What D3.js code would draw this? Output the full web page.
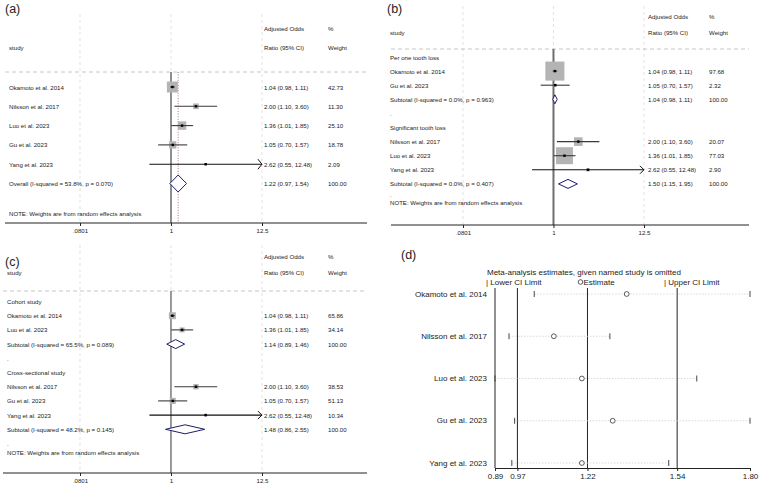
<!DOCTYPE html>
<html><head><meta charset="utf-8">
<script src="https://cdn.jsdelivr.net/npm/d3@7"></script>
<style>
body{margin:0;background:#fff}
svg{display:block}
text{font-family:"Liberation Sans",Arial,sans-serif;fill:#222}
</style>
</head><body>
<svg id="c" width="762" height="488"></svg>
<script>
// ---------------- DATA ----------------
const colHeads = ["Adjusted Odds", "Ratio (95% CI)", "%", "Weight"];
const forestTicks = [0.0801, 1, 12.5];
const forestTickLabels = [".0801", "1", "12.5"];
const noteText = "NOTE: Weights are from random effects analysis";

// (a) overall
const studiesA = ["Okamoto et al. 2014", "Nilsson et al. 2017", "Luo et al. 2023", "Gu et al. 2023", "Yang et al. 2023"];
const orA = [1.04, 2.00, 1.36, 1.05, 2.62];
const loA = [0.98, 1.10, 1.01, 0.70, 0.55];
const hiA = [1.11, 3.60, 1.85, 1.57, 12.48];
const wA = [42.73, 11.30, 25.10, 18.78, 2.09];
const pooledA = ["Overall  (I-squared = 53.8%, p = 0.070)", 1.22, 0.97, 1.54, 100.00];

// (b) by tooth loss definition
const groupsB = ["Per one tooth loss", "Significant tooth loss"];
const studiesB = [["Okamoto et al. 2014", "Gu et al. 2023"], ["Nilsson et al. 2017", "Luo et al. 2023", "Yang et al. 2023"]];
const orB = [[1.04, 1.05], [2.00, 1.36, 2.62]];
const loB = [[0.98, 0.70], [1.10, 1.01, 0.55]];
const hiB = [[1.11, 1.57], [3.60, 1.85, 12.48]];
const wB = [[97.68, 2.32], [20.07, 77.03, 2.90]];
const pooledB = [["Subtotal  (I-squared = 0.0%, p = 0.963)", 1.04, 0.98, 1.11, 100.00],
                 ["Subtotal  (I-squared = 0.0%, p = 0.407)", 1.50, 1.15, 1.95, 100.00]];

// (c) by study design
const groupsC = ["Cohort study", "Cross-sectional study"];
const studiesC = [["Okamoto et al. 2014", "Luo et al. 2023"], ["Nilsson et al. 2017", "Gu et al. 2023", "Yang et al. 2023"]];
const orC = [[1.04, 1.36], [2.00, 1.05, 2.62]];
const loC = [[0.98, 1.01], [1.10, 0.70, 0.55]];
const hiC = [[1.11, 1.85], [3.60, 1.57, 12.48]];
const wC = [[65.86, 34.14], [38.53, 51.13, 10.34]];
const pooledC = [["Subtotal  (I-squared = 65.5%, p = 0.089)", 1.14, 0.89, 1.46, 100.00],
                 ["Subtotal  (I-squared = 48.2%, p = 0.145)", 1.48, 0.86, 2.55, 100.00]];

// (d) leave-one-out sensitivity
const omittedD = ["Okamoto et al. 2014", "Nilsson et al. 2017", "Luo et al. 2023", "Gu et al. 2023", "Yang et al. 2023"];
const estD = [1.36, 1.10, 1.20, 1.31, 1.20];
const lowD = [1.03, 0.94, 0.89, 0.96, 0.95];
const upD = [1.80, 1.30, 1.61, 1.80, 1.51];
const refLinesD = [0.97, 1.22, 1.54];
const ticksD = [0.89, 0.97, 1.22, 1.54, 1.80];
const titleD = "Meta-analysis estimates, given named study is omitted";

// ---------------- DRAW ----------------
const svg = d3.select("#c");
const f2 = d3.format(".2f");
const ciText = (o, l, h) => `${f2(o)} (${f2(l)}, ${f2(h)})`;
const FS = 6.1;

function buildRows(groups, studies, ors, los, his, ws, pooled) {
  const rows = [];
  groups.forEach((gname, gi) => {
    rows.push({kind: "group", label: gname});
    studies[gi].forEach((s, i) => rows.push({kind: "study", label: s, or: ors[gi][i], lo: los[gi][i], hi: his[gi][i], w: ws[gi][i]}));
    const p = pooled[gi];
    rows.push({kind: "pooled", label: p[0], or: p[1], lo: p[2], hi: p[3], w: p[4]});
    rows.push({kind: "blank"});
  });
  return rows;
}

function forest(cfg) {
  const g = svg.append("g");
  const x = d3.scaleLog().domain([forestTicks[0], forestTicks[2]]).range(cfg.xr);
  const y = i => cfg.y0 + i * cfg.step;
  const box = d3.scaleSqrt().domain([0, 100]).range([0, cfg.boxMax]);

  g.append("text").attr("x", cfg.labX).attr("y", cfg.labY).attr("font-size", 12.5).attr("dominant-baseline", "central").text(cfg.tag);

  forestTicks.forEach(v => {
    g.append("line").attr("x1", x(v)).attr("x2", x(v)).attr("y1", cfg.top)
      .attr("y2", v === 1 ? cfg.hline : cfg.axisY)
      .attr("stroke", "#d6d6d6").attr("stroke-width", 0.7).attr("stroke-dasharray", "3,3");
  });
  g.append("text").attr("x", cfg.valX).attr("y", cfg.h1).attr("font-size", FS).attr("dominant-baseline", "central").text(colHeads[0]);
  g.append("text").attr("x", cfg.valX).attr("y", cfg.h2).attr("font-size", FS).attr("dominant-baseline", "central").text(colHeads[1]);
  g.append("text").attr("x", cfg.wX).attr("y", cfg.h1).attr("font-size", FS).attr("dominant-baseline", "central").text(colHeads[2]);
  g.append("text").attr("x", cfg.wX).attr("y", cfg.h2).attr("font-size", FS).attr("dominant-baseline", "central").text(colHeads[3]);
  g.append("text").attr("x", cfg.textX).attr("y", cfg.h2).attr("font-size", FS).attr("dominant-baseline", "central").text("study");
  g.append("line").attr("x1", cfg.left).attr("x2", cfg.right).attr("y1", cfg.hline).attr("y2", cfg.hline)
    .attr("stroke", "#b8b8b8").attr("stroke-width", 0.8).attr("stroke-dasharray", "4,3");
  g.append("line").attr("x1", x(1)).attr("x2", x(1)).attr("y1", cfg.hline).attr("y2", cfg.axisY)
    .attr("stroke", cfg.nullColor).attr("stroke-width", cfg.nullW);
  if (cfg.overallLine) {
    g.append("line").attr("x1", x(cfg.overallLine)).attr("x2", x(cfg.overallLine)).attr("y1", cfg.hline).attr("y2", cfg.axisY)
      .attr("stroke", "#8a5a5a").attr("stroke-width", 0.8).attr("stroke-dasharray", "1,1.6");
  }

  const last = cfg.rows.length - 1;
  cfg.rows.forEach((r, i) => {
    const yy = y(i);
    if (r.kind === "blank") {
      const by = i === last ? Math.min(yy, cfg.noteY - 8) : yy;
      g.append("text").attr("x", cfg.textX).attr("y", by).attr("font-size", FS).attr("dominant-baseline", "central").text(".");
      return;
    }
    g.append("text").attr("x", cfg.textX).attr("y", yy).attr("font-size", FS).attr("dominant-baseline", "central").text(r.label);
    if (r.kind === "group") return;
    g.append("text").attr("x", cfg.valX).attr("y", yy).attr("font-size", FS).attr("dominant-baseline", "central").text(ciText(r.or, r.lo, r.hi));
    g.append("text").attr("x", cfg.wX).attr("y", yy).attr("font-size", FS).attr("dominant-baseline", "central").text(f2(r.w));
    if (r.kind === "study") {
      const s = box(r.w);
      g.append("rect").attr("x", x(r.or) - s / 2).attr("y", yy - s / 2).attr("width", s).attr("height", s).attr("fill", "#b4b4b4");
      const clipped = r.hi >= forestTicks[2] * 0.99;
      g.append("line").attr("x1", x(r.lo)).attr("x2", x(Math.min(r.hi, forestTicks[2]))).attr("y1", yy).attr("y2", yy)
        .attr("stroke", clipped ? "#111" : "#3a3a3a").attr("stroke-width", 1.1);
      if (clipped) {
        const tx = x(Math.min(r.hi, forestTicks[2]));
        g.append("path").attr("d", `M${tx - 4},${yy - cfg.arrowH}L${tx},${yy}L${tx - 4},${yy + cfg.arrowH}`)
          .attr("fill", "none").attr("stroke", "#111").attr("stroke-width", 1);
      }
      g.append("rect").attr("x", x(r.or) - 1.2).attr("y", yy - 1.2).attr("width", 2.4).attr("height", 2.4).attr("fill", "#000");
    } else {
      const h = cfg.diamondH;
      g.append("path").attr("d", `M${x(r.lo)},${yy}L${x(r.or)},${yy - h}L${x(r.hi)},${yy}L${x(r.or)},${yy + h}Z`)
        .attr("fill", "#fff").attr("stroke", "#1c1c6b").attr("stroke-width", 1);
    }
  });

  g.append("text").attr("x", cfg.textX).attr("y", cfg.noteY).attr("font-size", FS).attr("dominant-baseline", "central").text(noteText);

  g.append("line").attr("x1", cfg.left).attr("x2", cfg.right).attr("y1", cfg.axisY).attr("y2", cfg.axisY).attr("stroke", "#222").attr("stroke-width", 1);
  const ax = g.append("g").attr("transform", `translate(0,${cfg.axisY})`)
    .call(d3.axisBottom(x).tickValues(forestTicks).tickFormat((d, i) => forestTickLabels[i]).tickSize(3).tickPadding(3).tickSizeOuter(0));
  ax.select(".domain").remove();
  ax.selectAll("line").attr("stroke", "#222");
  ax.selectAll("text").attr("font-size", FS).attr("font-family", '"Liberation Sans",Arial,sans-serif').attr("fill", "#222");
}

// (a)
const rowsA = studiesA.map((s, i) => ({kind: "study", label: s, or: orA[i], lo: loA[i], hi: hiA[i], w: wA[i]}));
rowsA.push({kind: "pooled", label: pooledA[0], or: pooledA[1], lo: pooledA[2], hi: pooledA[3], w: pooledA[4]});
forest({tag: "(a)", labX: 5, labY: 9, xr: [80, 262], left: 5, right: 367, top: 14, h1: 28, h2: 47, hline: 72,
  textX: 9, valX: 264, wX: 328, y0: 87, step: 19.3, rows: rowsA, noteY: 213, axisY: 223,
  boxMax: 16.8, diamondH: 8.5, arrowH: 5, nullColor: "#8f8f8f", nullW: 2, overallLine: pooledA[1]});

// (b)
const rowsB = buildRows(groupsB, studiesB, orB, loB, hiB, wB, pooledB);
forest({tag: "(b)", labX: 387, labY: 9, xr: [463, 644], left: 391, right: 749, top: 6, h1: 16, h2: 32, hline: 49,
  textX: 390, valX: 648, wX: 709, y0: 57, step: 14.1, rows: rowsB, noteY: 202, axisY: 225,
  boxMax: 19.3, diamondH: 4.5, arrowH: 4, nullColor: "#6e6e6e", nullW: 2, overallLine: null});

// (c)
const rowsC = buildRows(groupsC, studiesC, orC, loC, hiC, wC, pooledC);
forest({tag: "(c)", labX: 5, labY: 262, xr: [80, 262], left: 3, right: 367, top: 245, h1: 256, h2: 272, hline: 291,
  textX: 7, valX: 264, wX: 328, y0: 301.5, step: 14.2, rows: rowsC, noteY: 452, axisY: 473,
  boxMax: 8.6, diamondH: 4.5, arrowH: 4, nullColor: "#333", nullW: 1, overallLine: null});

// (d)
(function () {
  const g = svg.append("g");
  const x = d3.scaleLinear().domain([ticksD[0], ticksD[ticksD.length - 1]]).range([495, 750]);
  const y = d3.scalePoint().domain(omittedD).range([294, 463]);
  const top = 288, axisY = 468;
  g.append("text").attr("x", 401).attr("y", 255).attr("font-size", 12.5).attr("dominant-baseline", "central").text("(d)");
  g.append("text").attr("x", 487).attr("y", 272).attr("font-size", 8).attr("dominant-baseline", "central").text(titleD);
  g.append("text").attr("x", 486).attr("y", 282).attr("font-size", 8).attr("dominant-baseline", "central").text("| Lower CI Limit");
  g.append("circle").attr("cx", 580.5).attr("cy", 282).attr("r", 2.3).attr("fill", "none").attr("stroke", "#333").attr("stroke-width", 0.8);
  g.append("text").attr("x", 583.5).attr("y", 282).attr("font-size", 8).attr("dominant-baseline", "central").text("Estimate");
  g.append("text").attr("x", 664).attr("y", 282).attr("font-size", 8).attr("dominant-baseline", "central").text("| Upper CI Limit");

  [ticksD[0]].concat(refLinesD).forEach(v => {
    g.append("line").attr("x1", x(v)).attr("x2", x(v)).attr("y1", top).attr("y2", axisY).attr("stroke", "#222").attr("stroke-width", 1);
  });
  omittedD.forEach((s, i) => {
    const yy = y(s);
    g.append("text").attr("x", 487).attr("y", yy).attr("font-size", 8).attr("text-anchor", "end").attr("dominant-baseline", "central").text(s);
    g.append("line").attr("x1", x(lowD[i])).attr("x2", x(upD[i])).attr("y1", yy).attr("y2", yy)
      .attr("stroke", "#cfcfcf").attr("stroke-width", 0.8).attr("stroke-dasharray", "1.5,1.5");
    [lowD[i], upD[i]].forEach(v => {
      g.append("line").attr("x1", x(v)).attr("x2", x(v)).attr("y1", yy - 3).attr("y2", yy + 3).attr("stroke", "#333").attr("stroke-width", 0.9);
    });
    g.append("circle").attr("cx", x(estD[i])).attr("cy", yy).attr("r", 2.4).attr("fill", "#fff").attr("stroke", "#333").attr("stroke-width", 0.8);
  });
  const ax = g.append("g").attr("transform", `translate(0,${axisY})`)
    .call(d3.axisBottom(x).tickValues(ticksD).tickFormat(d3.format(".2f")).tickSize(3).tickPadding(2).tickSizeOuter(0));
  ax.select(".domain").attr("stroke", "#222");
  ax.selectAll("line").attr("stroke", "#222");
  ax.selectAll("text").attr("font-size", 8).attr("font-family", '"Liberation Sans",Arial,sans-serif').attr("fill", "#222");
})();
</script>
</body></html>
